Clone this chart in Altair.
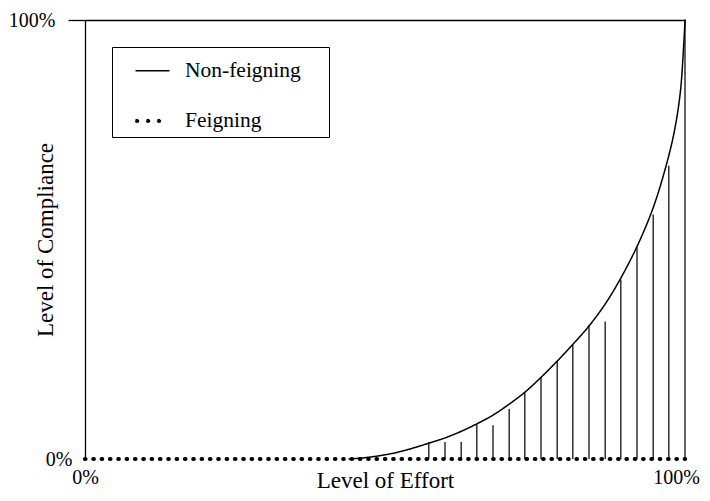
import altair as alt
import pandas as pd

# Non-feigning curve (Level of Effort -> Level of Compliance)
curve_x = [0.44, 0.467, 0.493, 0.52, 0.547, 0.573, 0.6, 0.627, 0.653, 0.68, 0.707,
           0.733, 0.76, 0.787, 0.813, 0.84, 0.867, 0.893, 0.92, 0.945, 0.964,
           0.981, 0.992, 0.998, 1.0]
curve_y = [0.0, 0.003, 0.008, 0.015, 0.025, 0.036, 0.048, 0.063, 0.08, 0.10, 0.125,
           0.152, 0.186, 0.223, 0.261, 0.303, 0.353, 0.412, 0.484, 0.565, 0.646,
           0.738, 0.833, 0.947, 1.0]

# Feigning baseline
base_x = [0.0, 1.0]
base_y = [0.0, 0.0]

# Feigning drop lines
stem_x = [0.573, 0.6, 0.627, 0.653, 0.68, 0.707, 0.733, 0.76, 0.787, 0.813,
          0.84, 0.867, 0.893, 0.92, 0.947, 0.973, 1.0]
stem_h = [0.039, 0.039, 0.039, 0.08, 0.077, 0.114, 0.152, 0.186, 0.223, 0.261,
          0.305, 0.313, 0.409, 0.484, 0.557, 0.668, 1.0]

series_names = ["Non-feigning", "Feigning"]
tick_values = [0, 1]

FONT = "Liberation Serif, Times New Roman, Times, serif"

# three-dot legend glyph (tiny circles, drawn by a thick stroke)
DOTS = ("M-0.92,0a0.01,0.01 0 1,0 0.02,0a0.01,0.01 0 1,0 -0.02,0"
        "M-0.27,0a0.01,0.01 0 1,0 0.02,0a0.01,0.01 0 1,0 -0.02,0"
        "M0.37,0a0.01,0.01 0 1,0 0.02,0a0.01,0.01 0 1,0 -0.02,0")

df_lines = pd.concat([
    pd.DataFrame({"x": curve_x, "y": curve_y, "series": series_names[0]}),
    pd.DataFrame({"x": base_x, "y": base_y, "series": series_names[1]}),
], ignore_index=True)
df_stems = pd.DataFrame({"x": stem_x, "y0": 0.0, "h": stem_h})

xscale = alt.Scale(domain=[0, 1], nice=False, zero=False)
yscale = alt.Scale(domain=[0, 1], nice=False, zero=False)

x_axis = alt.Axis(values=tick_values, format=".0%", title="Level of Effort",
                  domain=False, ticks=False, grid=False, labelFlush=False,
                  labelFont=FONT, labelFontSize=20, labelColor="black", labelPadding=8,
                  labelOffset={"condition": {"test": "datum.value === 1", "value": -9}, "value": 0},
                  titleFont=FONT, titleFontSize=23, titleFontWeight="normal",
                  titleColor="black", titleBaseline="middle", titleY=21)

cond_hide0 = {"condition": {"test": "datum.value === 0", "value": 0}, "value": 1}
y_axis = alt.Axis(values=tick_values, format=".0%", title="Level of Compliance",
                  domain=True, domainColor="black", domainWidth=1.3,
                  ticks=True, tickSize=17, tickColor="black", tickWidth=1.3,
                  tickOpacity=cond_hide0,
                  grid=True, gridColor="black", gridWidth=1.3, gridOpacity=cond_hide0,
                  labelFont=FONT, labelFontSize=20, labelColor="black",
                  labelBaseline="middle", labelFlush=False,
                  labelPadding={"condition": {"test": "datum.value === 0", "value": -4}, "value": 13},
                  titleFont=FONT, titleFontSize=23, titleFontWeight="normal",
                  titleColor="black", titleAngle=270, titleAlign="center",
                  titleBaseline="middle", titleX=-40, titleY=219.5)

legend = alt.Legend(title=None, orient="none", legendX=27, legendY=27,
                    strokeColor="black", padding=5.75,
                    symbolType={"expr": "datum.value === 'Feigning' ? '" + DOTS + "' : 'stroke'"},
                    symbolSize=1156, symbolOffset=15.25, labelOffset=13, rowPadding=19.5,
                    labelFont=FONT, labelFontSize=21.5, labelColor="black",
                    labelLimit=400,
                    labelExpr="datum.label + '\u00a0\u00a0\u00a0\u00a0\u200b'")

stems = alt.Chart(df_stems).mark_rule(color="#111111", strokeWidth=1.3).encode(
    x=alt.X("x:Q", scale=xscale, axis=x_axis),
    y=alt.Y("y0:Q", scale=yscale, axis=y_axis),
    y2="h:Q",
)

lines = alt.Chart(df_lines).mark_line(interpolate="catmull-rom", strokeCap="round").encode(
    x=alt.X("x:Q", scale=xscale, axis=x_axis),
    y=alt.Y("y:Q", scale=yscale, axis=y_axis),
    stroke=alt.Stroke("series:N", sort=series_names,
                      scale=alt.Scale(domain=series_names, range=["black", "black"]),
                      legend=legend),
    strokeDash=alt.StrokeDash("series:N", sort=series_names,
                              scale=alt.Scale(domain=series_names, range=[[1, 0], [0.5, 7.83]]),
                              legend=legend),
    strokeWidth=alt.StrokeWidth("series:N", sort=series_names,
                                scale=alt.Scale(domain=series_names, range=[1.5, 4.2]),
                                legend=legend),
)

chart = alt.layer(stems, lines).properties(
    width=600, height=439,
    autosize=alt.AutoSizeParams(type="none"),
    padding={"left": 77, "top": 12, "right": 17, "bottom": 34},
    background="white",
).configure_view(stroke=None)

chart.save("out.html", embed_options={"renderer": "svg", "actions": False})
